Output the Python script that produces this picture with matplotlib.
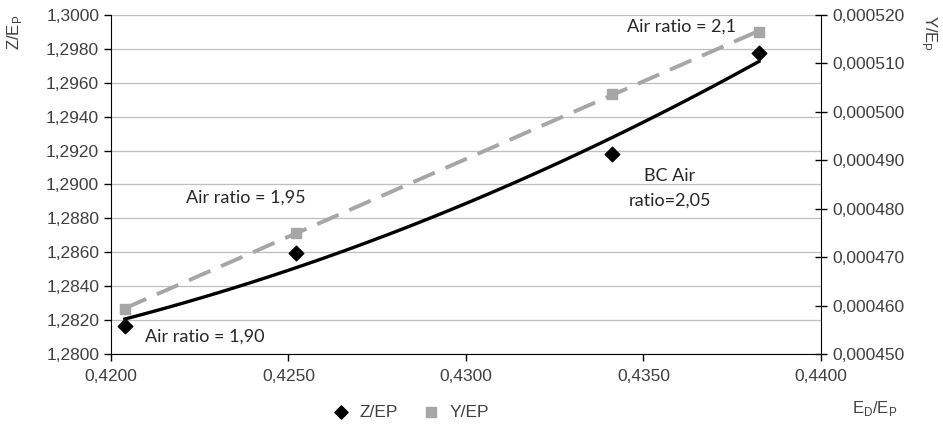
import numpy as np
import matplotlib.pyplot as plt
from matplotlib.ticker import FuncFormatter, MultipleLocator

# data
ed_ep = [0.42039, 0.42521, 0.43411, 0.43825]
z_ep = [1.28165, 1.28596, 1.29180, 1.29776]
y_ep = [0.0004593, 0.0004750, 0.0005037, 0.0005165]
point_labels = ["Air ratio = 1,90", "Air ratio = 1,95", "BC Air\nratio=2,05", "Air ratio = 2,1"]

plt.rcParams['font.family'] = ['Liberation Sans', 'DejaVu Sans']
tick_color = '#404040'

fig = plt.figure(figsize=(9.43, 4.46), dpi=100)
ax = fig.add_axes([0.1177, 0.2063, 0.7529, 0.7601])
ax2 = ax.twinx()

# trendlines
xs = np.linspace(ed_ep[0], ed_ep[-1], 100)
cz = np.polyfit(ed_ep, z_ep, 2)
cy = np.polyfit(ed_ep, y_ep, 1)
ax.plot(xs, np.polyval(cz, xs), color='black', lw=2.4, zorder=3)
ax2.plot(xs, np.polyval(cy, xs), color='#a6a6a6', lw=2.8, dashes=(6, 3), zorder=3)

ax.scatter(ed_ep, z_ep, marker='D', s=55, color='black', zorder=4)
ax2.scatter(ed_ep, y_ep, marker='s', s=55, color='#a6a6a6', zorder=4)

ax.set_xlim(0.42, 0.44)
ax.set_ylim(1.28, 1.30)
ax2.set_ylim(0.00045, 0.00052)
ax.xaxis.set_major_locator(MultipleLocator(0.005))
ax.yaxis.set_major_locator(MultipleLocator(0.002))
ax2.yaxis.set_major_locator(MultipleLocator(0.00001))

ax.xaxis.set_major_formatter(FuncFormatter(lambda v, p: f"{v:.4f}".replace('.', ',')))
ax.yaxis.set_major_formatter(FuncFormatter(lambda v, p: f"{v:.4f}".replace('.', ',')))
ax2.yaxis.set_major_formatter(FuncFormatter(lambda v, p: f"{v:.6f}".replace('.', ',')))

ax.grid(axis='y', color='#bfbfbf', lw=0.9)
ax.set_axisbelow(True)
for a in (ax, ax2):
    a.spines['top'].set_visible(False)
    a.tick_params(labelsize=12.5, labelcolor=tick_color, length=5, width=1)
ax2.spines['left'].set_visible(False)
ax.spines['right'].set_visible(False)
ax2.spines['bottom'].set_visible(False)
ax2.tick_params(axis='y', direction='inout', length=9)
ax.tick_params(axis='x', pad=6)

ax.text(-0.136, 1.0, "Z/E$_\\mathregular{P}$", transform=ax.transAxes, rotation=90,
        fontsize=12, color=tick_color, ha='center', va='top')
ax.text(1.153, 1.0, "Y/E$_\\mathregular{P}$", transform=ax.transAxes, rotation=-90,
        fontsize=12, color=tick_color, ha='center', va='top')
ax.text(1.075, -0.16, "E$_\\mathregular{D}$/E$_\\mathregular{P}$", transform=ax.transAxes,
        fontsize=12, color=tick_color, ha='center', va='center')

# point annotations
ann_font = dict(family=['Lato', 'DejaVu Sans'], fontsize=13, color='#262626')
ax.text(0.42096, 1.2810, point_labels[0], ha='left', va='center', **ann_font)
ax.text(0.42380, 1.2892, point_labels[1], ha='center', va='center', **ann_font)
ax.text(0.43575, 1.28976, point_labels[2], ha='center', va='center', linespacing=1.7, **ann_font)
ax.text(0.43606, 1.2993, point_labels[3], ha='center', va='center', **ann_font)

# legend
hz = ax.scatter([], [], marker='D', s=45, color='black', label='Z/EP')
hy = ax.scatter([], [], marker='s', s=45, color='#a6a6a6', label='Y/EP')
fig.legend(handles=[hz, hy], loc='center', bbox_to_anchor=(0.431, 0.076), ncol=2,
           frameon=False, fontsize=12.5, handletextpad=0.05, columnspacing=0.9,
           labelcolor=tick_color)

fig.savefig('out.png', dpi=100)
